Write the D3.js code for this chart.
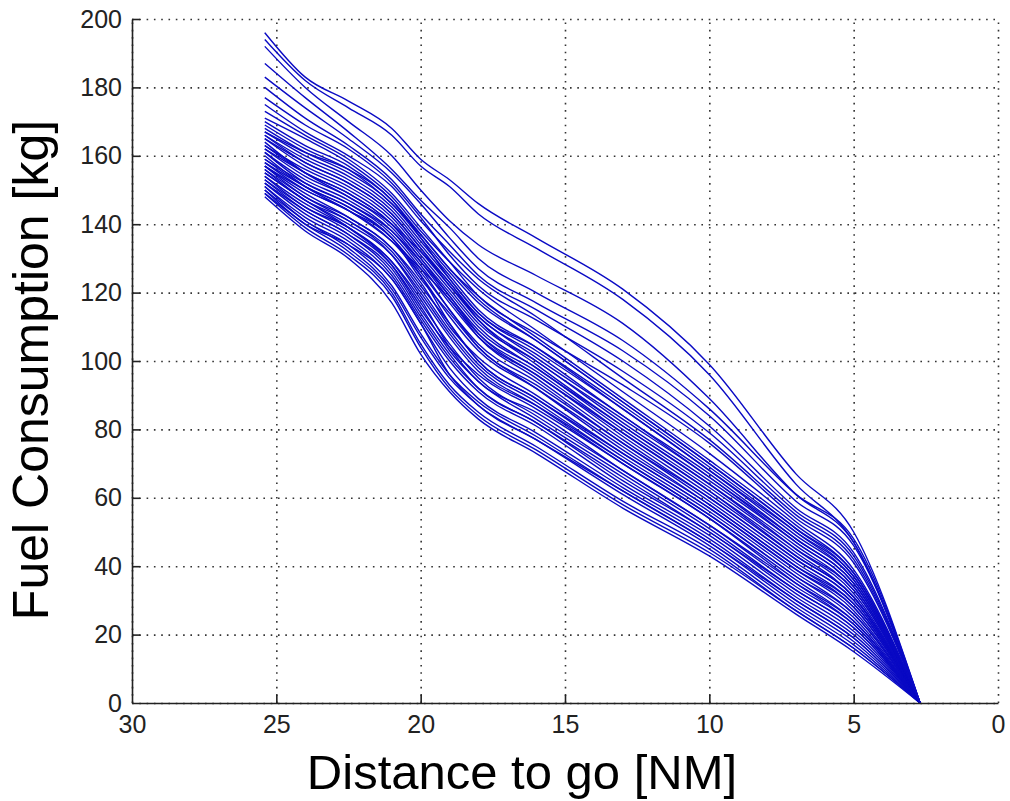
<!DOCTYPE html>
<html>
<head>
<meta charset="utf-8">
<script src="https://cdn.jsdelivr.net/npm/d3@7"></script>
<style>
  body { margin: 0; background: #fff; }
  svg { display: block; font-family: "Liberation Sans", Arial, sans-serif; }
  .tick text { font-size: 25px; fill: #222; }
  .grid line { stroke: #333; stroke-width: 1.6; stroke-dasharray: 1.6, 5.7; }
  .grid .domain { display: none; }
  .axis path, .axis line { stroke: #222; stroke-width: 1.6; }
  .run { fill: none; stroke: #0a0ac4; stroke-width: 1.4; }
  .title { fill: #000; }
</style>
</head>
<body>
<svg class="FuelChart" width="1010" height="801"></svg>
<script>
// distance-to-go knots [NM], shared by every flight
const distance = [25.4, 24, 22.5, 21, 20, 19, 18, 16, 13, 10, 7, 5, 2.7];

// a few flights well above the rest
const topFlights = [
    [196, 183, 176, 168, 159, 153, 146, 136, 121, 99, 67, 50, 0],
    [194, 182, 174, 166, 157, 151, 143, 133, 118, 96, 64, 47, 0],
    [192, 180, 170, 160, 150, 141, 134, 125, 111, 89, 61, 47, 0]
];

// middle group
const midFlights = [
    [187, 177, 167, 156, 147, 139, 130, 120, 106, 86, 61, 48, 0],
    [183, 174, 165, 155, 146, 136, 127, 117, 103, 84, 59, 46, 0],
    [180, 171, 163, 153, 143, 134, 125, 115, 100, 81, 57, 44, 0],
    [177, 169, 162, 152, 142, 131, 122, 112, 97, 79, 56, 43, 0],
    [175, 167, 160, 151, 141, 132, 124, 113, 95, 77, 55, 42, 0],
    [173, 166, 159, 149, 139, 129, 119, 108, 93, 76, 54, 41, 0]
];

// main bundle
const mainFlights = [
    [148, 138, 130, 117, 102, 91, 83, 73, 57, 43, 26, 15, 0],
    [149, 139, 131, 119, 104, 92, 84, 74, 58, 44, 27, 16, 0],
    [149, 140, 132, 120, 105, 93, 85, 75, 59, 45, 27, 16, 0],
    [150, 141, 133, 121, 107, 95, 87, 77, 61, 46, 28, 17, 0],
    [150, 140, 134, 124, 111, 96, 87, 77, 62, 47, 29, 18, 0],
    [151, 141, 134, 122, 108, 96, 88, 78, 62, 47, 30, 19, 0],
    [151, 142, 135, 124, 111, 98, 89, 79, 63, 48, 30, 19, 0],
    [152, 143, 136, 125, 112, 100, 91, 81, 64, 49, 31, 20, 0],
    [152, 144, 137, 127, 114, 102, 92, 82, 65, 50, 32, 21, 0],
    [153, 144, 137, 126, 113, 101, 92, 82, 66, 50, 33, 22, 0],
    [153, 145, 138, 128, 116, 103, 94, 83, 67, 51, 33, 22, 0],
    [154, 145, 139, 129, 117, 105, 95, 84, 68, 52, 34, 23, 0],
    [154, 146, 139, 129, 118, 104, 94, 85, 68, 52, 35, 24, 0],
    [155, 147, 139, 128, 115, 104, 96, 86, 70, 54, 35, 23, 0],
    [155, 147, 140, 131, 120, 108, 98, 87, 70, 54, 36, 24, 0],
    [156, 147, 141, 131, 119, 107, 97, 87, 71, 55, 37, 26, 0],
    [156, 148, 141, 132, 121, 109, 99, 88, 71, 55, 37, 25, 0],
    [157, 148, 142, 133, 123, 110, 101, 90, 73, 57, 39, 28, 0],
    [157, 149, 142, 133, 122, 111, 100, 89, 72, 56, 38, 26, 0],
    [157, 150, 144, 136, 125, 111, 100, 89, 73, 57, 39, 27, 0],
    [158, 150, 144, 135, 125, 113, 103, 92, 75, 58, 40, 28, 0],
    [158, 151, 145, 136, 124, 114, 104, 92, 74, 58, 40, 29, 0],
    [159, 151, 145, 136, 126, 115, 104, 93, 76, 59, 41, 29, 0],
    [159, 152, 146, 137, 127, 115, 105, 94, 76, 60, 42, 30, 0],
    [160, 151, 144, 135, 127, 118, 107, 95, 77, 60, 42, 30, 0],
    [161, 153, 147, 138, 128, 117, 107, 96, 78, 61, 43, 31, 0],
    [161, 152, 146, 138, 129, 119, 108, 96, 79, 62, 43, 31, 0],
    [162, 154, 148, 139, 129, 118, 108, 97, 79, 62, 44, 31, 0],
    [162, 155, 149, 140, 130, 119, 109, 98, 80, 63, 45, 33, 0],
    [163, 155, 149, 140, 130, 120, 110, 98, 81, 64, 45, 32, 0],
    [163, 156, 150, 141, 131, 121, 111, 100, 82, 65, 47, 34, 0],
    [164, 155, 148, 140, 132, 123, 112, 99, 81, 64, 46, 33, 0],
    [165, 157, 151, 142, 132, 122, 112, 100, 83, 66, 47, 34, 0],
    [165, 158, 152, 143, 133, 122, 113, 101, 84, 66, 48, 35, 0],
    [166, 158, 152, 143, 133, 123, 113, 102, 84, 67, 48, 35, 0],
    [166, 159, 153, 144, 134, 124, 114, 103, 86, 68, 49, 36, 0],
    [167, 160, 154, 145, 135, 125, 115, 104, 86, 68, 50, 37, 0],
    [167, 161, 156, 147, 136, 124, 114, 104, 87, 69, 50, 36, 0],
    [168, 161, 155, 146, 136, 126, 117, 106, 88, 70, 51, 37, 0],
    [169, 162, 156, 146, 137, 127, 118, 106, 88, 70, 51, 38, 0],
    [170, 163, 157, 147, 137, 127, 119, 107, 89, 71, 52, 38, 0],
    [171, 165, 158, 148, 138, 129, 121, 109, 91, 73, 53, 39, 0]
];

const xTicks = [30, 25, 20, 15, 10, 5, 0];
const yTicks = [0, 20, 40, 60, 80, 100, 120, 140, 160, 180, 200];

function renderFuelChart()
{
    const margin = { top: 19, left: 132, right: 12, bottom: 98 };
    const width = 1010 - margin.left - margin.right;
    const height = 801 - margin.top - margin.bottom;

    const svg = d3.select('.FuelChart');
    const chart = svg.append('g')
        .attr('transform', `translate(${margin.left}, ${margin.top})`);

    const xScale = d3.scaleLinear().domain([30, 0]).range([0, width]);
    const yScale = d3.scaleLinear().domain([0, 200]).range([height, 0]);

    // dotted grid
    chart.append('g')
        .attr('class', 'grid')
        .call(d3.axisLeft(yScale).tickValues(yTicks).tickSize(-width).tickFormat(''));
    chart.append('g')
        .attr('class', 'grid')
        .attr('transform', `translate(0, ${height})`)
        .call(d3.axisBottom(xScale).tickValues(xTicks).tickSize(-height).tickFormat(''));

    // flights
    const line = d3.line()
        .x(d => xScale(d[0]))
        .y(d => yScale(d[1]))
        .curve(d3.curveMonotoneX);

    const flights = mainFlights.concat(midFlights, topFlights);
    chart.selectAll('.run')
        .data(flights)
        .enter()
        .append('path')
        .attr('class', 'run')
        .attr('d', vals => line(vals.map((v, i) => [distance[i], v])));

    // axes, ticks pointing inwards
    chart.append('g')
        .attr('class', 'axis')
        .call(d3.axisLeft(yScale).tickValues(yTicks).tickSizeInner(-8).tickSizeOuter(0).tickPadding(10));

    chart.append('g')
        .attr('class', 'axis')
        .attr('transform', `translate(0, ${height})`)
        .call(d3.axisBottom(xScale).tickValues(xTicks).tickSizeInner(-8).tickSizeOuter(0).tickPadding(12));

    svg.selectAll('.axis .tick line').filter(d => d === 0 || d === 30).remove();

    svg.append('text')
        .attr('class', 'title')
        .attr('text-anchor', 'middle')
        .attr('font-size', 49)
        .attr('x', 522)
        .attr('y', 789)
        .text('Distance to go [NM]');

    svg.append('text')
        .attr('class', 'title')
        .attr('text-anchor', 'middle')
        .attr('font-size', 50)
        .attr('transform', 'translate(48, 370) rotate(-90)')
        .text('Fuel Consumption [kg]');
}

renderFuelChart();
</script>
</body>
</html>
